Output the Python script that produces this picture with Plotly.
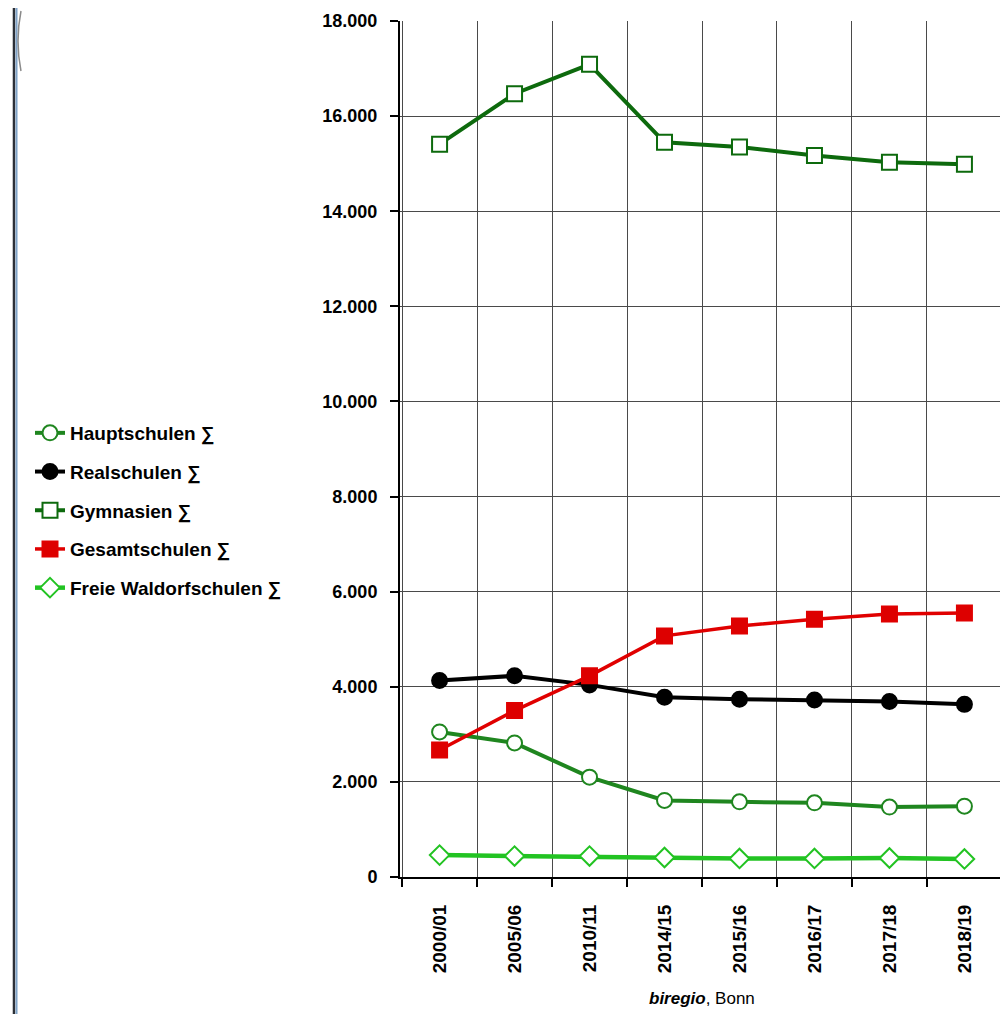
import plotly.graph_objects as go

years = ["2000/01", "2005/06", "2010/11", "2014/15", "2015/16", "2016/17", "2017/18", "2018/19"]
hauptschulen = [3050, 2820, 2100, 1610, 1580, 1560, 1470, 1490]
realschulen = [4130, 4230, 4040, 3780, 3740, 3720, 3690, 3630]
gymnasien = [15410, 16470, 17090, 15450, 15350, 15170, 15030, 14990]
gesamtschulen = [2670, 3500, 4230, 5070, 5280, 5420, 5530, 5550]
waldorf = [460, 440, 440, 410, 390, 390, 400, 380]

series_names = ["Hauptschulen ∑", "Realschulen ∑", "Gymnasien ∑", "Gesamtschulen ∑", "Freie Waldorfschulen ∑"]

FONT = "Liberation Sans, Arial, sans-serif"

# page has an 8px body margin; figure sized so plot area lands at page x 400..1004, y 21..877
W, H = 1000, 1006
ML, MR, MT, MB = 392, 4, 13, 137

fig = go.Figure()

def add(name, vals, color, symbol, fill, size, lw):
    fig.add_trace(go.Scatter(
        x=years, y=vals, name=name, mode="lines+markers",
        line=dict(color=color, width=lw),
        marker=dict(symbol=symbol, size=size, color=fill,
                    line=dict(color=color, width=2)),
        legendgroup=name,
    ))

add(series_names[0], hauptschulen, "#1f861f", "circle", "white", 15, 4)
add(series_names[1], realschulen, "#000000", "circle", "#000000", 15, 4)
add(series_names[2], gymnasien, "#0d6a0d", "square", "white", 15, 4)
add(series_names[3], gesamtschulen, "#e00000", "square", "#dd0000", 15, 3.5)
add(series_names[4], waldorf, "#22c322", "diamond", "white", 15, 4.5)

fig.update_layout(
    width=W, height=H,
    margin=dict(l=ML, r=MR, t=MT, b=MB, autoexpand=False),
    paper_bgcolor="white", plot_bgcolor="white",
    separators=",.",
    font=dict(family=FONT, size=18, color="black"),
    showlegend=True,
    legend=dict(
        xref="container", yref="container",
        x=22 / W, xanchor="left", y=1 - 406 / H, yanchor="top",
        font=dict(family=FONT, size=19, color="black", weight="bold"),
        itemwidth=30, tracegroupgap=11,
        bgcolor="rgba(0,0,0,0)",
    ),
    xaxis=dict(
        type="category", tickson="boundaries", automargin=False,
        showgrid=True, gridcolor="#4a4a4a", gridwidth=1.3,
        showline=True, linecolor="black", linewidth=2,
        ticks="outside", ticklen=8, tickcolor="black", tickwidth=1.5,
        tickangle=-90, ticklabelstandoff=18,
        tickfont=dict(family=FONT, size=19, color="black", weight="bold"),
    ),
    yaxis=dict(
        range=[0, 18000], dtick=2000, tickformat=",d", automargin=False,
        showgrid=True, gridcolor="#4a4a4a", gridwidth=1.3,
        showline=True, linecolor="black", linewidth=2,
        ticks="outside", ticklen=8, tickcolor="black", tickwidth=1.5,
        ticklabelstandoff=9,
        tickfont=dict(family=FONT, size=18, color="black", weight="bold"),
        zeroline=False,
    ),
    annotations=[
        dict(text="<b><i>biregio</i></b>, Bonn", x=0.5, xref="paper", y=-0.1425, yref="paper",
             yanchor="middle", showarrow=False, font=dict(family=FONT, size=17, color="black")),
    ],
    shapes=[
        dict(type="line", xref="paper", yref="paper", x0=-0.6391, x1=-0.6391, y0=-0.2, y1=1.03,
             line=dict(color="#2b2f36", width=2.5)),
        dict(type="line", xref="paper", yref="paper", x0=-0.6349, x1=-0.6349, y0=-0.2, y1=1.03,
             line=dict(color="#7fa3c8", width=2)),
        dict(type="path", xref="paper", yref="paper",
             path="M -0.6275 1.0117 Q -0.6374 0.9766 -0.6275 0.9416",
             line=dict(color="#8a8a8a", width=1.5)),
    ],
)

fig.write_html("out.html")
